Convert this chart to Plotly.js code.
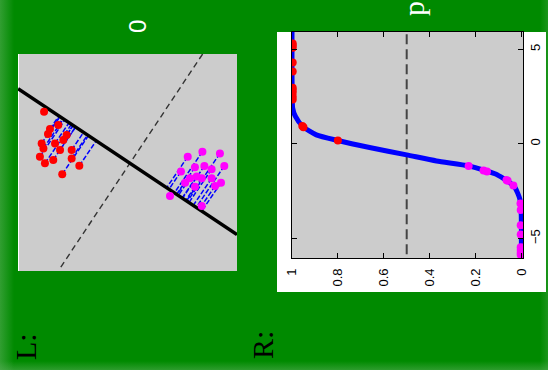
<!DOCTYPE html>
<html>
<head>
<meta charset="utf-8">
<script src="https://cdn.plot.ly/plotly-3.0.1.min.js"></script>
<style>
  html, body { margin: 0; padding: 0; }
  body {
    width: 548px; height: 370px; overflow: hidden;
    background:
      linear-gradient(to right, rgba(90,175,90,0.55) 0px, rgba(90,175,90,0) 14px),
      linear-gradient(to top, rgba(90,175,90,0.5) 0px, rgba(90,175,90,0) 9px),
      linear-gradient(to left, rgba(90,175,90,0.3) 0px, rgba(90,175,90,0) 8px),
      #008a00;
  }
  #chart { width: 548px; height: 370px; }
</style>
</head>
<body>
<div id="chart"></div>
<script>
// ---- Left panel: 2-D samples of two classes (feature space 0..10) ----
const redX1 = [1.19, 1.46, 1.84, 2.22, 1.08, 1.69, 2.07, 2.45, 1.00, 1.23, 1.61, 2.45, 2.80, 2.02, 1.16, 1.37, 1.92];
const redX2 = [7.34, 6.54, 6.73, 6.27, 5.88, 5.88, 6.04, 5.58, 5.27, 4.96, 5.12, 5.19, 4.85, 4.46, 5.65, 6.31, 5.58];
const magX1 = [7.75, 8.42, 9.22, 9.42, 8.08, 8.51, 8.84, 7.44, 7.85, 8.16, 8.39, 8.84, 9.27, 9.00, 6.94, 8.39, 7.63, 8.08];
const magX2 = [5.27, 5.50, 5.42, 4.84, 4.78, 4.84, 4.69, 4.58, 4.27, 4.35, 4.27, 4.27, 4.07, 3.92, 3.46, 3.00, 4.07, 3.88];
// projection direction line (solid) and decision boundary (dashed)
const projLineX1 = [0, 10];
const projLineX2 = [8.40, 1.68];
const boundaryX1 = [8.43, 1.87];
const boundaryX2 = [10.0, 0.05];

// ---- Right panel: posterior probability vs projected value ----
const curveX = [-6.04, -4.5, -3.6, -2.9, -2.3, -2.05, -1.82, -1.6, -1.43, -1.16, -0.9, -0.58, -0.19, 0.18, 0.48, 0.92, 1.45, 1.89, 2.5, 4.0, 5.91];
const curveP = [0.0, 0.0, 0.001, 0.007, 0.028, 0.05, 0.079, 0.11, 0.152, 0.229, 0.37, 0.50, 0.662, 0.80, 0.894, 0.953, 0.985, 0.997, 0.999, 1.0, 1.0];
const redProjX = [5.30, 5.20, 5.08, 4.30, 3.83, 2.96, 2.85, 2.70, 2.50, 2.35, 0.95, 0.88, 0.18];
const redProbs = [0.997, 0.997, 0.997, 0.997, 0.997, 0.997, 0.997, 0.997, 0.997, 0.997, 0.955, 0.95, 0.80];
const magProjX = [-1.16, -1.40, -1.45, -1.90, -1.95, -2.20, -3.14, -3.49, -4.29, -4.78, -5.45, -5.60, -5.75, -5.85];
const magProbs = [0.23, 0.165, 0.15, 0.065, 0.06, 0.035, 0.004, 0.003, 0.003, 0.003, 0.003, 0.003, 0.003, 0.003];
const threshold = 0.5;
const probTicks = [0, 0.2, 0.4, 0.6, 0.8, 1];
const probTickLabels = ['0', '0.2', '0.4', '0.6', '0.8', '1'];
const xTicks = [-5, 0, 5];

// projection segments from each sample to the solid line
function project(px, py) {
  const ax = projLineX1[0], ay = projLineX2[0];
  const dx = projLineX1[1] - ax, dy = projLineX2[1] - ay;
  const t = ((px - ax) * dx + (py - ay) * dy) / (dx * dx + dy * dy);
  return [ax + t * dx, ay + t * dy];
}
const segX = [], segY = [];
function addSegs(xs, ys) {
  xs.forEach((x, i) => {
    const p = project(x, ys[i]);
    segX.push(x, p[0], null);
    segY.push(ys[i], p[1], null);
  });
}
addSegs(redX1, redX2);
addSegs(magX1, magX2);

const W = 548, H = 370;
const px = v => v / W, py = v => 1 - v / H;

const traces = [
  { x: boundaryX1, y: boundaryX2, xaxis: 'x', yaxis: 'y', mode: 'lines',
    line: { color: '#333333', width: 1.4, dash: '6px,4px' }, hoverinfo: 'skip' },
  { x: segX, y: segY, xaxis: 'x', yaxis: 'y', mode: 'lines',
    line: { color: '#0000ff', width: 1.5, dash: '5px,2px' }, hoverinfo: 'skip' },
  { x: projLineX1, y: projLineX2, xaxis: 'x', yaxis: 'y', mode: 'lines',
    line: { color: '#000000', width: 3.5 }, hoverinfo: 'skip' },
  { x: redX1, y: redX2, xaxis: 'x', yaxis: 'y', mode: 'markers',
    marker: { color: '#ff0000', size: 8, line: { width: 0 } } },
  { x: magX1, y: magX2, xaxis: 'x', yaxis: 'y', mode: 'markers',
    marker: { color: '#ff00ff', size: 8, line: { width: 0 } } },
  { x: curveP, y: curveX, xaxis: 'x2', yaxis: 'y2', mode: 'lines',
    line: { color: '#0000ff', width: 5, shape: 'spline', smoothing: 0.6 } },
  { x: redProbs, y: redProjX, xaxis: 'x2', yaxis: 'y2', mode: 'markers',
    marker: { color: '#ff0000', size: 8, line: { width: 0 } } },
  { x: magProbs, y: magProjX, xaxis: 'x2', yaxis: 'y2', mode: 'markers',
    marker: { color: '#ff00ff', size: 8, line: { width: 0 } } }
];

const tickFont = { family: 'Liberation Sans, Arial, sans-serif', size: 13, color: '#000' };
const ann = (text, x, y, font) => ({
  text: text, xref: 'paper', yref: 'paper', x: px(x), y: py(y),
  xanchor: 'center', yanchor: 'middle', showarrow: false, textangle: -90, font: font
});

const layout = {
  width: W, height: H,
  margin: { l: 0, r: 0, t: 0, b: 0 },
  paper_bgcolor: 'rgba(0,0,0,0)',
  plot_bgcolor: 'rgba(0,0,0,0)',
  showlegend: false,
  xaxis: { domain: [px(18), px(237)], range: [0, 10], visible: false, fixedrange: true },
  yaxis: { domain: [py(271), py(54)], range: [0, 10], visible: false, fixedrange: true },
  xaxis2: {
    domain: [px(292), px(523)], anchor: 'y2', range: [1.0, -0.007],
    tickvals: probTicks, ticktext: probTickLabels, tickangle: -90,
    ticks: 'inside', ticklen: 5, tickcolor: '#000', tickfont: tickFont,
    ticklabelstandoff: 4,
    showline: true, linecolor: '#000', linewidth: 1, mirror: 'ticks',
    showgrid: false, zeroline: false
  },
  yaxis2: {
    domain: [py(258.3), py(32)], anchor: 'x2', side: 'right', range: [-6.04, 5.91],
    tickvals: xTicks, tickangle: -90,
    ticks: 'inside', ticklen: 5, tickcolor: '#000', tickfont: tickFont,
    showline: true, linecolor: '#000', linewidth: 1, mirror: 'ticks',
    showgrid: false, zeroline: false
  },
  shapes: [
    { type: 'rect', xref: 'paper', yref: 'paper', x0: px(277), x1: px(546), y0: py(292), y1: py(32),
      fillcolor: '#ffffff', line: { width: 0 }, layer: 'below' },
    { type: 'rect', xref: 'x domain', yref: 'y domain', x0: 0, x1: 1, y0: 0, y1: 1,
      fillcolor: '#cccccc', line: { width: 0 }, layer: 'below' },
    { type: 'line', xref: 'paper', yref: 'paper', x0: px(18.5), x1: px(18.5), y0: py(271), y1: py(54),
      line: { color: '#ffffff', width: 1 }, layer: 'below' },
    { type: 'rect', xref: 'x2 domain', yref: 'y2 domain', x0: 0, x1: 1, y0: 0, y1: 1,
      fillcolor: '#cccccc', line: { width: 0 }, layer: 'below' },
    { type: 'line', xref: 'x2', yref: 'y2 domain', x0: threshold, x1: threshold, y0: 0.018, y1: 1,
      line: { color: '#444444', width: 2, dash: '10px,5px' }, layer: 'below' }
  ],
  annotations: [
    ann('0', 137, 27, { family: 'Liberation Sans, Arial, sans-serif', size: 24, color: '#ffffff' }),
    ann('p', 414, 9, { family: 'Liberation Serif, Times New Roman, serif', size: 30, color: '#ffffff' }),
    ann('L:', 25, 347, { family: 'Liberation Serif, Times New Roman, serif', size: 30, color: '#000000' }),
    ann('R:', 262, 345, { family: 'Liberation Serif, Times New Roman, serif', size: 30, color: '#000000' })
  ]
};

Plotly.newPlot('chart', traces, layout, { staticPlot: true, displayModeBar: false });
</script>
</body>
</html>
